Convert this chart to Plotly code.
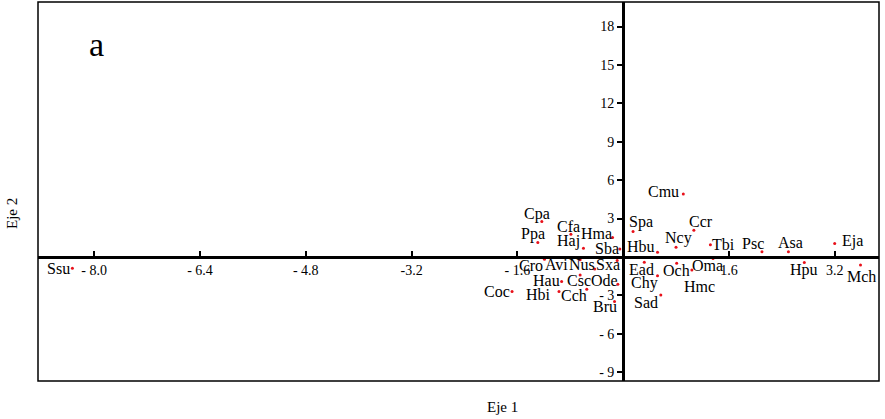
import plotly.graph_objects as go

# species codes and their scores on the two axes
species = ['Ssu', 'Cpa', 'Ppa', 'Cfa', 'Haj', 'Hma', 'Sba', 'Cro', 'Avi', 'Nus',
           'Sxa', 'Hau', 'Csc', 'Ode', 'Coc', 'Hbi', 'Cch', 'Bru', 'Cmu', 'Spa',
           'Ccr', 'Ncy', 'Hbu', 'Tbi', 'Psc', 'Asa', 'Eja', 'Ead', 'Och', 'Oma',
           'Hmc', 'Chy', 'Sad', 'Hpu', 'Mch']
eje1 = [-8.33, -1.23, -1.29, -0.79, -0.60, -0.16, -0.05, -1.19, -0.65, -0.43,
        -0.09, -0.93, -0.65, -0.08, -1.68, -0.97, -0.55, -0.13, 0.91, 0.15,
        1.07, 0.80, 0.52, 1.32, 2.10, 2.50, 3.20, 0.32, 0.81, 1.36,
        1.04, 0.52, 0.57, 2.74, 3.59]
eje2 = [-0.88, 2.77, 1.12, 1.77, 0.68, 1.51, 0.62, -0.18, -0.23, -0.94,
        -0.29, -1.93, -1.41, -2.13, -2.71, -2.71, -2.52, -3.49, 4.92, 1.98,
        2.09, 0.76, 0.37, 0.94, 0.41, 0.41, 1.04, -0.41, -0.49, -0.13,
        -1.02, -1.48, -2.97, -0.44, -0.63]

x_ticks = [-8.0, -6.4, -4.8, -3.2, -1.6, 1.6, 3.2]
x_tick_text = ['- 8.0', '- 6.4', '- 4.8', '-3.2', '- 1.6', '1.6', '3.2']
y_ticks = [18, 15, 12, 9, 6, 3, -3, -6, -9]
y_tick_text = ['18', '15', '12', '9', '6', '3', '- 3', '- 6', '- 9']

# label offset from its point in pixels (right, down), to keep labels tight like the original
label_dx = [-14, -5, -5, -2, -15, -16, -13, -13, -24, -13,
            -9, -15, -1, -13, -15, -21, -13, -10, -20, 8,
            7, 2, -17, 13, -9, 2, 18, -3, 0, -6,
            8, -13, -15, 0, 1]
label_dy = [0, -7, -9, -8, -7, -4, 0, 6, 5, -4,
            4, -1, 6, -4, 0, 3, 6, 5, -2, -10,
            -9, -9, -6, 0, -8, -9, -3, 7, 7, 7,
            17, 7, 8, 7, 12]

x_range = [-8.85, 3.87]
y_range = [-9.7, 19.92]

font = 'Liberation Serif, Times New Roman, serif'

fig = go.Figure()
fig.add_trace(go.Scatter(
    x=eje1, y=eje2,
    mode='markers',
    marker=dict(size=3, color='#e8101a'),
    cliponaxis=False,
    showlegend=False
))

for name, x, y, dx, dy in zip(species, eje1, eje2, label_dx, label_dy):
    fig.add_annotation(x=x, y=y, text=name, showarrow=False,
                       xshift=dx, yshift=-dy,
                       font=dict(family=font, size=16, color='black'))

# axes cross at the origin
x_cross = (0 - y_range[0]) / (y_range[1] - y_range[0])
y_cross = (0 - x_range[0]) / (x_range[1] - x_range[0])

fig.update_layout(
    width=885, height=419,
    margin=dict(l=38, r=6, t=2, b=38, autoexpand=False),
    paper_bgcolor='white', plot_bgcolor='white',
    font=dict(family=font, size=14, color='black'),
    xaxis=dict(range=x_range, anchor='free', position=x_cross,
               showline=True, linecolor='black', linewidth=2.5,
               ticks='inside', ticklen=5, tickwidth=1.5, tickcolor='black',
               tickvals=x_ticks, ticktext=x_tick_text,
               showgrid=False, zeroline=False, automargin=False),
    yaxis=dict(range=y_range, anchor='free', position=y_cross,
               showline=True, linecolor='black', linewidth=3,
               ticks='outside', ticklen=5, tickwidth=1.5, tickcolor='black',
               tickvals=y_ticks, ticktext=y_tick_text,
               showgrid=False, zeroline=False, automargin=False),
    shapes=[dict(type='rect', xref='paper', yref='paper', x0=0, x1=1, y0=0, y1=1,
                 line=dict(color='black', width=1.5))],
)

fig.add_annotation(text='a', xref='paper', yref='paper', x=0.058, y=0.943,
                   showarrow=False, font=dict(size=34, family=font))
fig.add_annotation(text='Eje 1', xref='paper', yref='paper', x=0.552, y=-0.0686,
                   xanchor='center', yanchor='middle', showarrow=False,
                   font=dict(size=15, family=font))
fig.add_annotation(text='Eje 2', xref='paper', yref='paper', x=-0.031, y=0.443,
                   xanchor='center', yanchor='middle', textangle=-90, showarrow=False,
                   font=dict(size=15, family=font))

# the page has a default body margin; drop it so the chart fills the window
fig.write_html("out.html", config={'displayModeBar': False},
               post_script="document.body.style.margin='0px';")
